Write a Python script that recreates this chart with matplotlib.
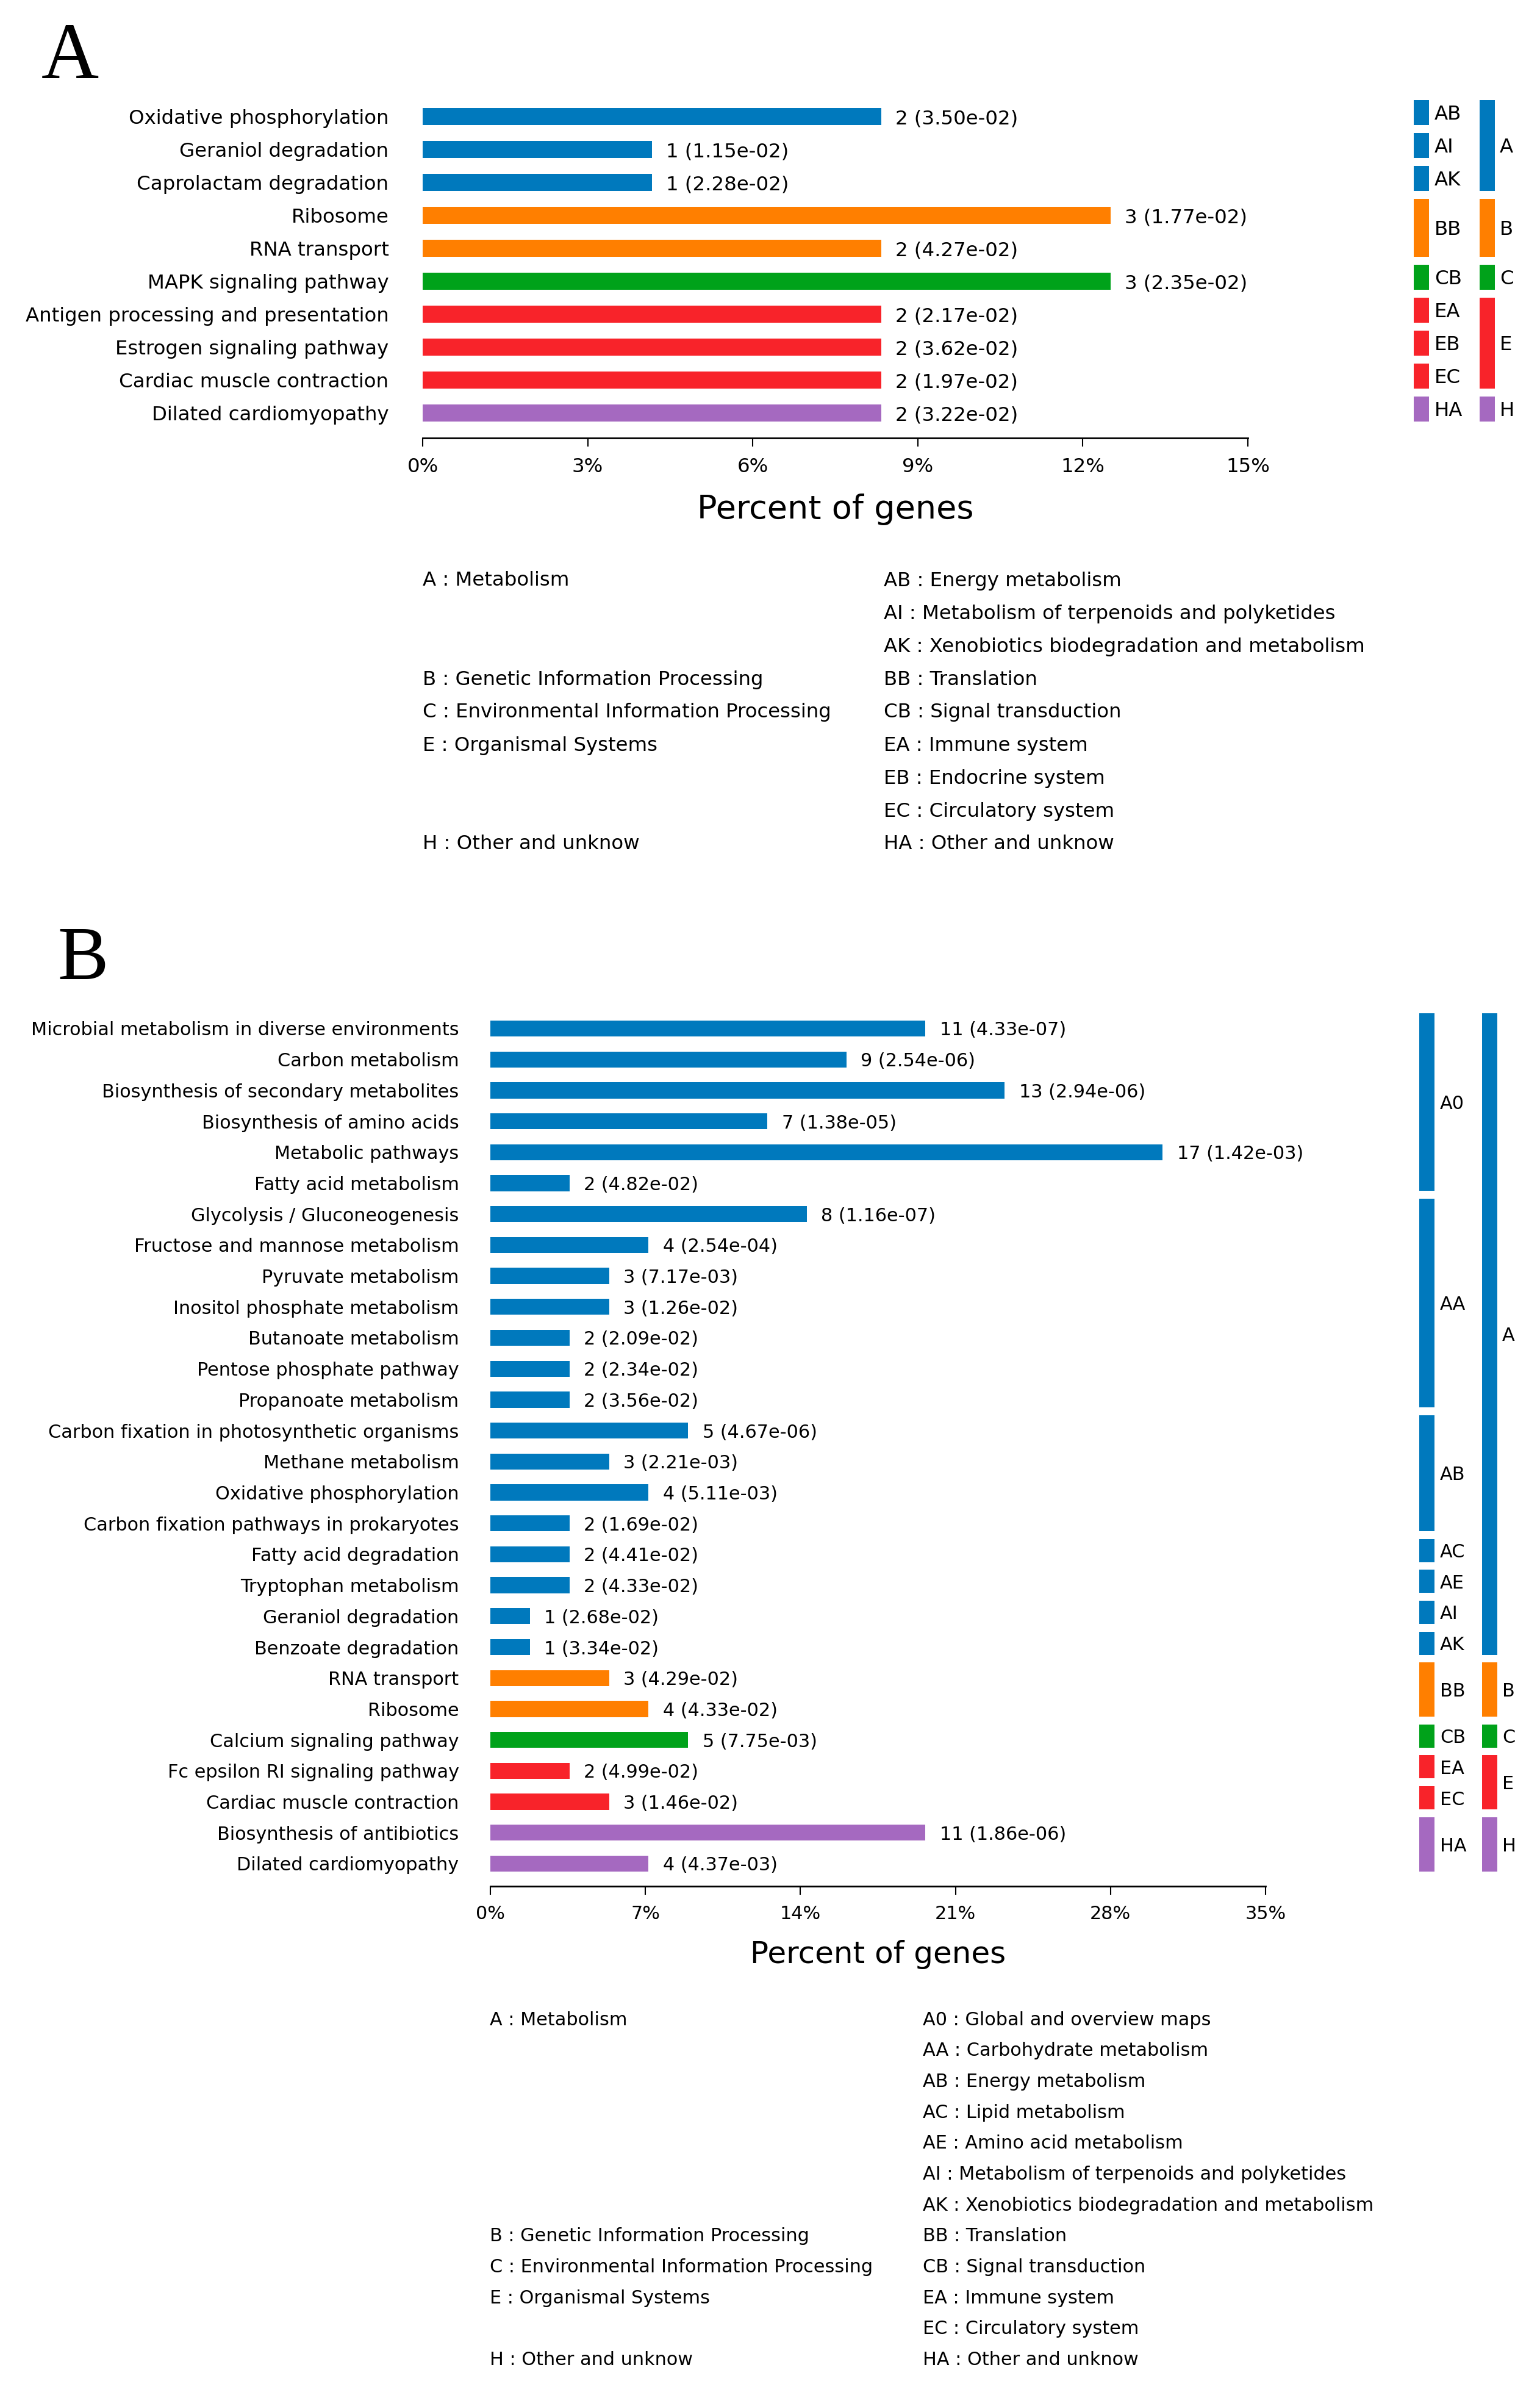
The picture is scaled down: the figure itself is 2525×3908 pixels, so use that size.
import matplotlib
matplotlib.use("Agg")
import matplotlib.pyplot as plt
from matplotlib.ticker import FuncFormatter

# colours for the KEGG level-1 classes
BLUE = "#0079BD"
ORANGE = "#FF7F00"
GREEN = "#00A21A"
RED = "#F8232A"
PURPLE = "#A569C0"

# ---------------- panel A data ----------------
a_terms = [
    "Oxidative phosphorylation", "Geraniol degradation", "Caprolactam degradation",
    "Ribosome", "RNA transport", "MAPK signaling pathway",
    "Antigen processing and presentation", "Estrogen signaling pathway",
    "Cardiac muscle contraction", "Dilated cardiomyopathy",
]
a_counts = [2, 1, 1, 3, 2, 3, 2, 2, 2, 2]
a_pvals = ["3.50e-02", "1.15e-02", "2.28e-02", "1.77e-02", "4.27e-02",
           "2.35e-02", "2.17e-02", "3.62e-02", "1.97e-02", "3.22e-02"]
a_colors = [BLUE, BLUE, BLUE, ORANGE, ORANGE, GREEN, RED, RED, RED, PURPLE]
a_total = 24
a_ticks = [0, 3, 6, 9, 12, 15]
# (label, first row, last row, colour)
a_level2 = [("AB", 0, 0, BLUE), ("AI", 1, 1, BLUE), ("AK", 2, 2, BLUE),
            ("BB", 3, 4, ORANGE), ("CB", 5, 5, GREEN),
            ("EA", 6, 6, RED), ("EB", 7, 7, RED), ("EC", 8, 8, RED),
            ("HA", 9, 9, PURPLE)]
a_level1 = [("A", 0, 2, BLUE), ("B", 3, 4, ORANGE), ("C", 5, 5, GREEN),
            ("E", 6, 8, RED), ("H", 9, 9, PURPLE)]
a_legend_left = [(0, "A : Metabolism"), (3, "B : Genetic Information Processing"),
                 (4, "C : Environmental Information Processing"),
                 (5, "E : Organismal Systems"), (8, "H : Other and unknow")]
a_legend_right = ["AB : Energy metabolism",
                  "AI : Metabolism of terpenoids and polyketides",
                  "AK : Xenobiotics biodegradation and metabolism",
                  "BB : Translation", "CB : Signal transduction",
                  "EA : Immune system", "EB : Endocrine system",
                  "EC : Circulatory system", "HA : Other and unknow"]

# ---------------- panel B data ----------------
b_terms = [
    "Microbial metabolism in diverse environments", "Carbon metabolism",
    "Biosynthesis of secondary metabolites", "Biosynthesis of amino acids",
    "Metabolic pathways", "Fatty acid metabolism", "Glycolysis / Gluconeogenesis",
    "Fructose and mannose metabolism", "Pyruvate metabolism",
    "Inositol phosphate metabolism", "Butanoate metabolism",
    "Pentose phosphate pathway", "Propanoate metabolism",
    "Carbon fixation in photosynthetic organisms", "Methane metabolism",
    "Oxidative phosphorylation", "Carbon fixation pathways in prokaryotes",
    "Fatty acid degradation", "Tryptophan metabolism", "Geraniol degradation",
    "Benzoate degradation", "RNA transport", "Ribosome",
    "Calcium signaling pathway", "Fc epsilon RI signaling pathway",
    "Cardiac muscle contraction", "Biosynthesis of antibiotics",
    "Dilated cardiomyopathy",
]
b_counts = [11, 9, 13, 7, 17, 2, 8, 4, 3, 3, 2, 2, 2, 5, 3, 4, 2, 2, 2, 1, 1,
            3, 4, 5, 2, 3, 11, 4]
b_pvals = ["4.33e-07", "2.54e-06", "2.94e-06", "1.38e-05", "1.42e-03", "4.82e-02",
           "1.16e-07", "2.54e-04", "7.17e-03", "1.26e-02", "2.09e-02", "2.34e-02",
           "3.56e-02", "4.67e-06", "2.21e-03", "5.11e-03", "1.69e-02", "4.41e-02",
           "4.33e-02", "2.68e-02", "3.34e-02", "4.29e-02", "4.33e-02", "7.75e-03",
           "4.99e-02", "1.46e-02", "1.86e-06", "4.37e-03"]
b_colors = [BLUE] * 21 + [ORANGE, ORANGE, GREEN, RED, RED, PURPLE, PURPLE]
b_total = 56
b_ticks = [0, 7, 14, 21, 28, 35]
b_level2 = [("A0", 0, 5, BLUE), ("AA", 6, 12, BLUE), ("AB", 13, 16, BLUE),
            ("AC", 17, 17, BLUE), ("AE", 18, 18, BLUE), ("AI", 19, 19, BLUE),
            ("AK", 20, 20, BLUE), ("BB", 21, 22, ORANGE), ("CB", 23, 23, GREEN),
            ("EA", 24, 24, RED), ("EC", 25, 25, RED), ("HA", 26, 27, PURPLE)]
b_level1 = [("A", 0, 20, BLUE), ("B", 21, 22, ORANGE), ("C", 23, 23, GREEN),
            ("E", 24, 25, RED), ("H", 26, 27, PURPLE)]
b_legend_left = [(0, "A : Metabolism"), (7, "B : Genetic Information Processing"),
                 (8, "C : Environmental Information Processing"),
                 (9, "E : Organismal Systems"), (11, "H : Other and unknow")]
b_legend_right = ["A0 : Global and overview maps", "AA : Carbohydrate metabolism",
                  "AB : Energy metabolism", "AC : Lipid metabolism",
                  "AE : Amino acid metabolism",
                  "AI : Metabolism of terpenoids and polyketides",
                  "AK : Xenobiotics biodegradation and metabolism",
                  "BB : Translation", "CB : Signal transduction",
                  "EA : Immune system", "EC : Circulatory system",
                  "HA : Other and unknow"]

W, H = 2525, 3908
fig = plt.figure(figsize=(W / 100, H / 100), dpi=100)
plt.rcParams["font.family"] = "DejaVu Sans"


def px_box(x0, x1, y0, y1):
    return [x0 / W, 1 - y1 / H, (x1 - x0) / W, (y1 - y0) / H]


def draw_panel(terms, counts, pvals, colors, total, ticks, level2, level1,
               legend_left, legend_right, geo, fs, fs_lab):
    x0, x1, row0, step, spine_y = geo["x0"], geo["x1"], geo["row0"], geo["step"], geo["spine"]
    ytop = -0.6
    ybot = (spine_y - row0) / step
    y0_px = row0 + ytop * step
    ax = fig.add_axes(px_box(x0, x1, y0_px, spine_y))
    pct = [c / total * 100 for c in counts]
    rows = list(range(len(terms)))
    ax.barh(rows, pct, height=0.52, color=colors)
    for i, (p, c, pv) in enumerate(zip(pct, counts, pvals)):
        ax.annotate(f"{c} ({pv})", xy=(p, i), xytext=(17, 0), textcoords="offset points",
                    va="center_baseline", ha="left", fontsize=fs)
    ax.set_xlim(0, ticks[-1])
    ax.set_ylim(ybot, ytop)
    ax.set_yticks(rows)
    ax.set_yticklabels(terms, fontsize=fs)
    ax.tick_params(axis="y", length=0, pad=geo["ypad"])
    ax.set_xticks(ticks)
    ax.xaxis.set_major_formatter(FuncFormatter(lambda v, _: f"{v:.0f}%"))
    ax.tick_params(axis="x", length=10, width=1.5, pad=geo["xpad"], labelsize=fs)
    for s in ("top", "right", "left"):
        ax.spines[s].set_visible(False)
    ax.spines["bottom"].set_linewidth(2)

    # class indicator bars on the right
    gx0 = 2280
    axg = fig.add_axes(px_box(gx0, W, y0_px, spine_y), sharey=ax)
    axg.set_xlim(gx0, W)
    axg.axis("off")
    for levels, cx, tx in ((level2, geo["c2"], geo["t2"]), (level1, geo["c1"], geo["t1"])):
        for lab, first, last, col in levels:
            axg.bar(cx, last - first + 0.75, bottom=first - 0.5, width=25, color=col)
            axg.text(tx, (first - 0.5 + last + 0.25) / 2, lab, va="center_baseline",
                     ha="left", fontsize=fs)

    fig.text((x0 + x1) / 2 / W, 1 - geo["xlab_y"] / H, "Percent of genes",
             ha="center", va="center", fontsize=fs_lab)

    # code legend
    for k, txt in legend_left:
        fig.text(geo["lx"] / W, 1 - (geo["ly"] + k * step) / H, txt,
                 va="center", ha="left", fontsize=fs)
    for k, txt in enumerate(legend_right):
        fig.text(geo["rx"] / W, 1 - (geo["ly"] + k * step) / H, txt,
                 va="center", ha="left", fontsize=fs)
    return ax


geo_a = dict(x0=693, x1=2046, row0=191, step=54, spine=718, ypad=40, xpad=13,
             c2=2330.5, t2=2352, c1=2438.5, t1=2459, xlab_y=835,
             lx=693, rx=1449, ly=952)
draw_panel(a_terms, a_counts, a_pvals, a_colors, a_total, a_ticks, a_level2,
           a_level1, a_legend_left, a_legend_right, geo_a, 23.3, 39)

geo_b = dict(x0=804, x1=2075, row0=1686, step=50.7, spine=3092, ypad=37, xpad=12,
             c2=2339.5, t2=2361, c1=2442.5, t1=2463, xlab_y=3204,
             lx=803, rx=1513, ly=3311)
draw_panel(b_terms, b_counts, b_pvals, b_colors, b_total, b_ticks, b_level2,
           b_level1, b_legend_left, b_legend_right, geo_b, 21.8, 36)

fig.text(68 / W, 1 - 128 / H, "A", family="Liberation Serif", fontsize=94, va="baseline")
fig.text(94 / W, 1 - 1605 / H, "B", family="Liberation Serif", fontsize=90, va="baseline")

fig.savefig("out.png", dpi=100)
